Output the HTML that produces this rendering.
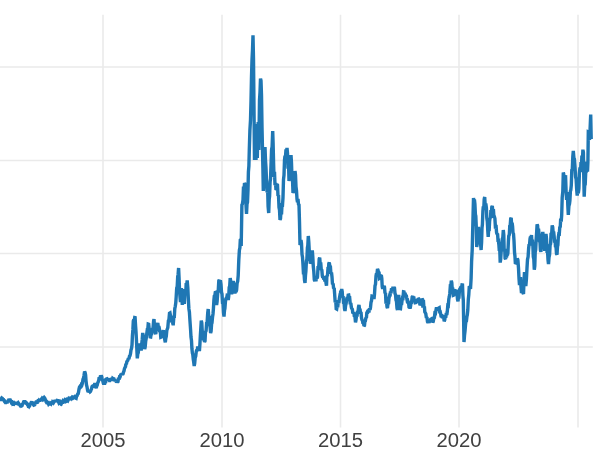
<!DOCTYPE html>
<html><head><meta charset="utf-8">
<style>
html,body{margin:0;padding:0;background:#fff;}
body{width:600px;height:450px;overflow:hidden;}
svg{display:block;position:absolute;left:0;top:0;}
.lbl{filter:grayscale(1);}
text{font-family:"Liberation Sans", sans-serif;font-size:19.4px;fill:#404040;text-anchor:middle;}
</style></head>
<body>
<svg width="600" height="450" viewBox="0 0 600 450">
<g stroke="#eaeaea" stroke-width="1.6" fill="none">
<line x1="103" y1="14.7" x2="103" y2="427.6"/><line x1="222" y1="14.7" x2="222" y2="427.6"/><line x1="340.5" y1="14.7" x2="340.5" y2="427.6"/><line x1="459" y1="14.7" x2="459" y2="427.6"/><line x1="578" y1="14.7" x2="578" y2="427.6"/><line x1="0" y1="67" x2="592.8" y2="67"/><line x1="0" y1="160.5" x2="592.8" y2="160.5"/><line x1="0" y1="253.5" x2="592.8" y2="253.5"/><line x1="0" y1="347" x2="592.8" y2="347"/>
</g>
<path d="M0.0,399.5 L0.5,399.5 L0.9,397.6 L1.4,398.8 L1.8,398.0 L2.4,398.4 L2.9,399.4 L3.5,399.5 L4.0,400.5 L4.5,401.4 L5.0,401.3 L5.5,402.5 L6.0,402.5 L6.5,401.7 L7.0,403.3 L7.5,400.8 L8.0,401.6 L8.5,400.4 L9.0,400.6 L9.5,400.0 L10.0,400.0 L10.4,402.0 L10.9,401.4 L11.4,402.6 L11.9,402.3 L12.4,403.5 L12.8,403.1 L13.3,404.2 L13.8,404.3 L14.3,403.5 L14.8,404.3 L15.2,402.3 L15.7,403.9 L16.2,403.2 L16.7,403.3 L17.2,403.6 L17.7,403.1 L18.2,404.4 L18.7,403.5 L19.2,404.2 L19.7,404.9 L20.1,404.2 L20.6,405.4 L21.1,405.1 L21.5,406.0 L22.0,405.8 L22.6,404.0 L23.1,403.6 L23.6,401.9 L24.2,400.8 L24.7,401.9 L25.3,401.8 L25.8,402.5 L26.3,403.3 L26.8,403.3 L27.3,404.4 L27.7,404.4 L28.2,405.9 L28.7,405.7 L29.2,406.5 L29.7,405.8 L30.2,404.0 L30.7,403.8 L31.2,402.4 L31.7,401.7 L32.2,402.8 L32.7,402.9 L33.2,404.0 L33.7,403.7 L34.2,405.0 L34.7,404.8 L35.2,402.7 L35.7,403.8 L36.2,402.0 L36.7,402.0 L37.2,402.1 L37.7,401.2 L38.2,401.5 L38.8,400.5 L39.3,401.2 L39.8,400.1 L40.3,400.1 L40.8,399.6 L41.3,399.1 L41.8,399.5 L42.3,398.4 L42.7,398.8 L43.2,397.4 L43.7,398.2 L44.2,397.5 L44.7,398.1 L45.1,399.8 L45.6,399.9 L46.0,401.7 L46.5,402.5 L47.0,402.3 L47.5,403.9 L48.0,402.7 L48.5,403.9 L49.0,403.3 L49.5,404.0 L50.0,404.0 L50.5,403.3 L51.0,403.8 L51.5,402.6 L52.0,403.5 L52.5,402.1 L53.0,402.6 L53.5,401.3 L54.0,402.0 L54.5,401.2 L55.0,401.2 L55.5,401.8 L56.0,400.3 L56.5,401.5 L57.0,400.5 L57.5,400.6 L58.0,401.4 L58.5,401.2 L59.0,402.8 L59.6,402.2 L60.1,403.4 L60.6,403.8 L61.1,402.6 L61.6,403.2 L62.2,401.9 L62.7,402.0 L63.2,400.4 L63.8,400.6 L64.3,401.1 L64.8,400.3 L65.3,401.1 L65.9,400.4 L66.4,401.4 L66.9,401.2 L67.4,400.0 L67.9,400.5 L68.5,399.2 L69.0,399.9 L69.5,398.2 L70.0,398.1 L70.5,398.4 L70.9,397.3 L71.4,398.2 L71.9,397.5 L72.3,398.0 L72.8,397.4 L73.3,397.9 L73.8,397.5 L74.2,397.1 L74.7,398.2 L75.1,397.5 L75.6,398.1 L76.1,398.3 L76.6,395.9 L77.1,395.7 L77.6,394.3 L78.1,393.8 L78.5,392.3 L79.0,389.2 L79.4,387.5 L79.9,387.6 L80.4,386.2 L80.9,386.4 L81.4,384.7 L81.9,385.0 L82.4,383.3 L83.0,379.3 L83.5,378.0 L84.0,375.6 L84.6,371.5 L85.1,372.5 L85.6,375.0 L86.0,380.6 L86.5,385.0 L87.0,386.8 L87.6,390.4 L88.1,392.0 L88.6,391.0 L89.1,392.3 L89.6,390.8 L90.1,391.7 L90.6,391.2 L91.1,389.8 L91.5,389.0 L92.0,386.7 L92.5,386.2 L93.0,386.2 L93.5,384.8 L94.0,386.0 L94.5,384.4 L95.0,384.4 L95.6,386.8 L96.2,388.1 L96.8,385.5 L97.2,385.2 L97.8,382.6 L98.2,382.0 L98.8,380.0 L99.2,377.2 L99.8,378.9 L100.2,377.1 L100.8,377.2 L101.2,375.5 L101.8,377.0 L102.2,380.0 L102.8,380.5 L103.2,382.9 L103.8,384.4 L104.3,383.0 L104.8,383.1 L105.3,380.7 L105.9,381.0 L106.4,379.0 L106.9,378.8 L107.4,379.7 L107.9,378.5 L108.5,380.0 L109.0,379.2 L109.5,380.6 L110.0,380.6 L110.5,380.0 L111.0,380.6 L111.5,379.0 L112.1,379.8 L112.6,378.4 L113.1,378.8 L113.6,379.5 L114.1,379.3 L114.6,380.5 L115.1,379.6 L115.5,381.5 L116.0,380.1 L116.5,382.6 L117.0,381.3 L117.5,382.5 L118.0,381.6 L118.5,377.7 L119.0,379.7 L119.6,376.8 L120.1,376.8 L120.6,375.0 L121.1,373.9 L121.6,375.1 L122.1,373.3 L122.6,374.6 L123.1,373.8 L123.6,371.9 L124.0,370.9 L124.5,368.5 L125.0,367.5 L125.5,366.6 L125.9,363.7 L126.4,364.2 L126.8,361.7 L127.3,361.0 L127.8,360.4 L128.4,358.3 L128.9,359.3 L129.5,356.2 L130.0,355.7 L130.5,353.7 L131.0,350.0 L131.5,348.6 L132.0,345.0 L132.4,336.3 L132.9,329.4 L133.3,321.0 L133.8,319.6 L134.2,320.5 L134.7,317.6 L135.1,317.7 L135.6,326.1 L136.0,331.7 L136.4,339.1 L136.9,350.7 L137.3,358.3 L137.8,353.9 L138.3,352.6 L138.8,346.1 L139.3,343.7 L139.8,345.4 L140.3,344.8 L140.8,349.0 L141.3,349.0 L141.8,343.1 L142.2,339.4 L142.7,333.0 L143.2,335.4 L143.7,342.2 L144.2,343.7 L144.7,349.0 L145.2,346.8 L145.7,341.1 L146.2,338.5 L146.7,334.3 L147.2,330.5 L147.7,330.7 L148.2,324.1 L148.7,324.3 L149.2,329.2 L149.7,329.5 L150.2,336.9 L150.7,337.0 L151.2,333.5 L151.7,333.5 L152.2,329.5 L152.7,329.0 L153.1,327.3 L153.6,321.1 L154.0,319.0 L154.4,324.9 L154.9,326.7 L155.3,333.0 L155.8,334.1 L156.3,328.4 L156.8,328.6 L157.3,325.0 L157.8,322.9 L158.3,327.2 L158.8,326.0 L159.3,328.3 L159.8,331.9 L160.3,331.5 L160.8,337.2 L161.3,337.0 L161.8,333.6 L162.3,335.5 L162.8,331.6 L163.3,330.3 L163.8,334.9 L164.3,335.3 L164.8,340.0 L165.3,342.3 L165.8,338.3 L166.3,336.2 L166.8,330.5 L167.3,329.0 L167.8,327.6 L168.4,320.7 L168.9,320.2 L169.5,313.3 L170.0,313.0 L170.5,315.8 L171.0,316.4 L171.5,320.7 L172.0,322.3 L172.4,321.8 L172.9,323.7 L173.3,323.7 L173.8,317.5 L174.3,317.1 L174.8,308.5 L175.3,306.3 L175.8,302.6 L176.2,296.5 L176.7,288.1 L177.2,286.5 L177.7,276.7 L178.1,274.5 L178.6,268.0 L179.1,278.8 L179.6,292.0 L180.1,298.0 L180.5,302.0 L180.9,293.4 L181.4,288.0 L181.9,297.8 L182.3,305.0 L182.8,294.7 L183.3,289.0 L183.8,298.3 L184.3,304.0 L184.8,294.5 L185.3,290.0 L185.8,292.3 L186.2,283.1 L186.7,285.1 L187.2,280.5 L187.8,287.7 L188.4,300.0 L188.9,308.9 L189.4,312.0 L189.9,320.0 L190.6,330.0 L191.0,337.0 L191.5,340.6 L191.9,348.5 L192.4,353.1 L192.8,354.5 L193.3,359.5 L193.7,362.0 L194.2,366.0 L194.7,363.3 L195.2,357.7 L195.7,356.4 L196.2,352.0 L196.7,349.5 L197.1,351.2 L197.6,347.6 L198.0,347.0 L198.5,349.4 L198.9,348.4 L199.4,351.0 L199.9,344.3 L200.4,334.8 L200.8,328.6 L201.3,320.5 L201.8,323.0 L202.2,330.7 L202.7,332.3 L203.1,338.5 L203.6,339.9 L204.1,338.8 L204.5,342.1 L205.0,341.0 L205.5,332.0 L206.1,330.8 L206.6,323.1 L207.1,322.9 L207.7,313.2 L208.2,309.0 L208.7,315.8 L209.2,316.5 L209.6,324.0 L210.1,327.0 L210.6,333.0 L211.1,331.1 L211.6,323.9 L212.0,322.8 L212.5,317.3 L213.0,314.0 L213.4,308.9 L213.9,300.2 L214.3,296.0 L214.9,295.5 L215.4,291.5 L216.0,292.0 L216.6,305.0 L217.1,301.6 L217.7,293.4 L218.2,291.4 L218.8,280.8 L219.3,280.0 L219.9,282.7 L220.4,280.2 L221.0,284.4 L221.5,292.2 L222.0,294.1 L222.5,302.9 L223.0,303.4 L223.5,312.5 L224.0,316.5 L224.5,310.4 L224.9,308.6 L225.4,302.0 L226.0,297.8 L226.5,298.9 L227.1,295.6 L227.6,295.9 L228.2,300.0 L228.7,296.7 L229.2,287.4 L229.7,286.2 L230.2,278.0 L230.7,281.1 L231.1,290.0 L231.6,294.4 L232.1,288.8 L232.7,287.1 L233.2,281.0 L233.8,284.0 L234.3,291.2 L234.9,293.3 L235.5,291.4 L236.0,292.1 L236.6,290.0 L237.1,283.3 L237.7,281.1 L238.2,275.6 L238.8,259.9 L239.4,250.0 L239.9,247.8 L240.3,240.0 L240.8,239.6 L241.2,246.0 L241.9,205.0 L242.4,204.0 L243.0,200.0 L243.5,186.6 L244.0,192.0 L244.5,183.0 L245.0,184.2 L245.5,190.0 L246.0,205.2 L246.5,214.0 L247.0,204.2 L247.5,202.2 L248.0,190.0 L248.4,172.1 L248.9,165.8 L249.3,150.0 L249.9,130.3 L250.5,120.0 L251.0,101.5 L251.5,76.8 L252.0,60.0 L252.5,50.2 L253.0,35.3 L253.5,59.3 L254.0,110.0 L254.5,160.0 L254.9,145.3 L255.3,125.0 L256.0,160.0 L256.6,124.0 L257.3,158.0 L257.8,130.3 L258.2,122.0 L258.8,150.0 L259.5,100.0 L260.0,92.4 L260.5,78.5 L261.0,80.8 L261.5,95.0 L262.0,127.1 L262.5,150.0 L262.9,168.2 L263.3,191.0 L263.9,180.9 L264.4,159.6 L265.0,147.0 L265.5,160.3 L266.0,168.0 L266.5,180.0 L267.1,192.5 L267.6,187.3 L268.1,206.4 L268.7,213.0 L269.2,199.3 L269.6,196.1 L270.1,181.7 L270.5,179.1 L271.0,165.0 L271.6,149.3 L272.1,146.9 L272.7,131.0 L273.1,142.7 L273.6,163.9 L274.0,177.0 L274.5,171.8 L275.0,185.2 L275.5,182.8 L276.0,190.0 L276.5,189.4 L277.0,184.6 L277.5,185.0 L278.0,196.0 L278.5,195.1 L279.0,207.2 L279.5,209.9 L280.0,220.0 L280.5,218.6 L281.0,211.2 L281.5,214.3 L282.0,204.9 L282.5,205.0 L283.0,197.6 L283.5,179.5 L284.0,175.1 L284.5,160.0 L285.0,155.6 L285.5,156.9 L286.0,149.4 L286.5,153.1 L287.0,148.0 L287.5,153.2 L288.0,168.7 L288.5,162.2 L289.0,181.0 L289.5,177.3 L290.0,163.7 L290.5,162.7 L291.0,155.0 L291.5,163.0 L292.0,178.7 L292.5,179.1 L293.0,193.0 L293.5,191.6 L294.0,180.1 L294.5,186.5 L295.0,171.0 L295.5,174.8 L296.0,186.7 L296.5,190.6 L297.0,199.0 L297.5,202.2 L298.0,198.9 L298.5,204.4 L299.0,205.0 L299.5,222.1 L300.0,245.0 L300.5,244.1 L301.0,240.0 L301.5,243.3 L302.0,254.4 L302.5,257.1 L303.0,265.0 L303.5,274.3 L304.0,273.0 L304.5,280.0 L305.0,283.0 L305.5,275.0 L305.9,271.0 L306.4,261.3 L306.9,259.1 L307.4,247.7 L307.8,245.5 L308.3,236.0 L308.8,242.2 L309.3,251.7 L309.8,255.0 L310.3,263.7 L310.8,262.2 L311.3,256.3 L311.8,256.0 L312.3,250.3 L312.8,256.8 L313.3,266.6 L313.8,271.4 L314.3,279.7 L314.8,281.2 L315.4,278.3 L315.9,281.3 L316.5,277.5 L317.0,278.3 L317.5,277.0 L318.1,266.1 L318.6,268.9 L319.2,258.9 L319.7,257.7 L320.2,264.1 L320.7,262.3 L321.3,270.1 L321.8,269.5 L322.3,275.7 L322.8,277.8 L323.4,276.0 L323.9,279.7 L324.4,277.6 L324.9,281.6 L325.5,276.9 L326.0,283.0 L326.5,285.6 L326.9,275.2 L327.4,276.3 L327.9,269.7 L328.4,270.0 L328.8,263.7 L329.3,262.5 L329.8,266.1 L330.4,266.5 L330.9,273.7 L331.5,272.4 L332.0,277.0 L332.5,284.3 L333.1,283.4 L333.6,288.5 L334.2,287.8 L334.7,295.0 L335.2,302.5 L335.7,300.0 L336.2,308.7 L336.7,309.0 L337.2,305.6 L337.7,307.3 L338.3,300.8 L338.8,303.0 L339.3,299.0 L339.8,296.1 L340.3,296.5 L340.7,290.5 L341.2,293.2 L341.7,289.0 L342.2,291.5 L342.6,297.4 L343.1,296.1 L343.6,303.7 L344.1,303.2 L344.5,308.7 L345.0,311.0 L345.6,305.6 L346.1,303.6 L346.7,299.0 L347.2,297.2 L347.7,298.9 L348.2,295.1 L348.7,295.0 L349.2,298.1 L349.7,298.0 L350.3,304.4 L350.8,303.0 L351.3,307.0 L351.8,309.2 L352.3,308.4 L352.8,313.4 L353.3,313.0 L353.8,312.2 L354.4,316.9 L354.9,316.0 L355.5,322.4 L356.0,320.0 L356.5,315.6 L357.0,316.6 L357.5,311.0 L358.0,312.3 L358.5,307.0 L359.0,305.0 L359.5,309.3 L360.0,308.8 L360.5,313.5 L361.0,311.8 L361.5,318.0 L362.0,320.0 L362.5,320.6 L363.0,323.6 L363.5,323.0 L364.0,326.0 L364.5,325.5 L364.9,321.3 L365.4,320.9 L365.9,317.4 L366.4,318.0 L366.8,312.8 L367.3,312.0 L367.8,312.1 L368.4,309.7 L368.9,312.5 L369.5,308.2 L370.0,310.0 L370.5,307.5 L371.0,302.4 L371.5,300.8 L372.0,296.0 L372.5,296.1 L373.0,298.0 L373.5,295.8 L374.0,299.0 L374.5,294.2 L375.0,285.8 L375.5,284.2 L376.0,276.0 L376.5,273.2 L377.0,273.7 L377.5,269.0 L378.0,270.0 L378.5,272.6 L379.0,271.6 L379.5,278.3 L380.0,278.0 L380.4,274.5 L380.9,278.5 L381.3,275.0 L381.8,278.3 L382.2,286.5 L382.7,289.0 L383.1,285.9 L383.6,288.8 L384.0,286.0 L384.5,286.9 L385.0,293.4 L385.5,292.9 L386.0,303.6 L386.5,300.7 L387.0,306.8 L387.5,308.0 L388.0,303.1 L388.5,304.2 L389.0,298.0 L389.5,296.0 L390.0,296.4 L390.5,291.3 L391.0,293.3 L391.5,288.4 L392.0,289.0 L392.5,290.3 L393.0,286.8 L393.5,289.4 L394.0,287.5 L394.5,288.0 L395.0,293.5 L395.5,294.6 L396.0,300.2 L396.5,301.5 L397.0,308.1 L397.5,310.0 L398.1,300.6 L398.7,295.0 L399.1,300.2 L399.6,302.9 L400.0,308.7 L400.5,308.8 L401.0,304.1 L401.5,305.0 L402.0,300.7 L402.5,297.8 L403.0,298.0 L403.5,291.9 L404.0,292.0 L404.5,295.1 L405.1,292.6 L405.6,297.2 L406.2,294.7 L406.7,298.0 L407.2,300.7 L407.6,300.5 L408.1,303.6 L408.6,302.9 L409.1,308.0 L409.5,305.1 L410.0,308.7 L410.5,306.7 L411.1,302.3 L411.6,302.3 L412.2,296.9 L412.7,296.0 L413.2,302.4 L413.7,296.5 L414.3,300.5 L414.8,299.3 L415.3,302.7 L415.8,302.6 L416.3,300.1 L416.8,301.9 L417.2,299.2 L417.7,300.9 L418.2,298.2 L418.7,298.7 L419.1,302.8 L419.6,302.4 L420.0,305.3 L420.5,304.3 L421.0,300.1 L421.5,302.1 L422.0,298.7 L422.5,299.4 L422.9,307.7 L423.4,299.8 L423.9,307.6 L424.4,306.5 L424.8,311.9 L425.3,312.7 L425.8,313.8 L426.4,318.1 L426.9,316.9 L427.5,321.7 L428.0,322.7 L428.5,321.3 L429.1,322.9 L429.6,319.9 L430.2,321.7 L430.7,319.3 L431.2,319.0 L431.7,322.1 L432.3,319.7 L432.8,322.5 L433.3,321.3 L433.8,318.3 L434.4,317.7 L434.9,313.1 L435.5,313.3 L436.0,310.0 L436.5,307.3 L437.1,309.9 L437.6,308.1 L438.2,310.7 L438.7,308.0 L439.2,307.7 L439.7,311.8 L440.2,311.8 L440.7,314.0 L441.2,317.3 L441.7,314.3 L442.2,317.9 L442.7,315.4 L443.2,318.4 L443.7,317.4 L444.2,321.3 L444.7,320.0 L445.2,316.8 L445.7,317.7 L446.3,313.0 L446.8,314.9 L447.3,311.3 L447.8,305.5 L448.3,305.7 L448.8,299.2 L449.3,296.7 L449.8,293.4 L450.3,286.5 L450.8,286.7 L451.3,280.7 L451.8,282.8 L452.3,289.9 L452.8,289.7 L453.3,295.3 L453.8,295.1 L454.4,291.0 L454.9,293.7 L455.5,290.4 L456.0,290.0 L456.5,293.7 L457.0,293.2 L457.5,299.2 L458.0,301.3 L458.5,296.5 L459.0,296.6 L459.5,289.5 L460.0,288.7 L460.5,289.4 L461.0,286.2 L461.5,287.9 L462.0,284.9 L462.5,285.0 L462.9,295.3 L463.3,300.0 L464.0,342.0 L464.5,335.6 L465.0,331.1 L465.5,325.0 L465.9,321.4 L466.4,321.0 L466.9,316.7 L467.3,315.0 L467.8,310.0 L468.3,299.6 L468.8,294.6 L469.3,286.0 L469.9,286.7 L470.5,289.0 L471.1,278.5 L471.6,261.2 L472.2,250.0 L472.6,234.1 L473.1,213.4 L473.5,198.0 L474.0,203.7 L474.4,199.5 L474.9,204.0 L475.4,214.3 L475.8,215.9 L476.3,227.0 L476.7,247.0 L477.3,243.5 L477.8,231.8 L478.4,227.0 L478.9,233.6 L479.5,235.5 L480.0,242.3 L480.6,243.9 L481.1,250.0 L481.6,242.2 L482.0,227.8 L482.4,224.5 L482.9,211.0 L483.3,206.5 L483.8,207.9 L484.2,199.2 L484.7,197.0 L485.3,207.4 L485.8,203.4 L486.4,208.0 L486.8,218.2 L487.3,221.4 L487.8,231.2 L488.2,237.0 L488.6,230.5 L489.1,231.0 L489.6,221.4 L490.0,218.0 L490.5,218.4 L490.9,210.2 L491.4,214.2 L491.8,206.9 L492.3,206.0 L492.8,211.3 L493.4,209.1 L493.9,216.6 L494.4,216.7 L494.9,218.6 L495.5,228.7 L496.0,224.9 L496.6,232.8 L497.1,234.0 L497.6,234.4 L498.0,240.2 L498.4,240.2 L498.9,245.0 L499.3,251.0 L499.8,250.3 L500.2,262.6 L500.7,259.0 L501.2,250.8 L501.7,248.2 L502.3,238.9 L502.8,237.5 L503.3,230.0 L503.8,234.9 L504.2,251.3 L504.7,248.7 L505.1,258.4 L505.6,259.0 L506.0,254.9 L506.5,257.6 L507.0,253.4 L507.4,255.5 L507.9,252.7 L508.4,241.2 L508.8,235.8 L509.3,234.8 L509.8,225.0 L510.2,225.4 L510.7,218.8 L511.2,217.8 L511.6,224.4 L512.1,222.7 L512.6,226.3 L513.0,232.8 L513.5,233.9 L514.0,240.6 L514.5,252.1 L514.9,255.7 L515.4,264.0 L515.9,263.3 L516.3,258.2 L516.8,262.2 L517.3,258.4 L517.9,260.2 L518.5,268.0 L519.0,278.5 L519.5,285.0 L520.0,278.8 L520.5,277.0 L521.0,287.1 L521.5,293.0 L522.0,285.5 L522.5,282.0 L523.0,292.9 L523.5,294.0 L524.0,280.9 L524.5,272.0 L524.9,279.1 L525.4,279.3 L525.8,286.0 L526.4,279.5 L527.0,268.0 L527.5,259.6 L528.1,256.8 L528.6,249.0 L529.1,244.3 L529.5,245.4 L530.0,238.9 L530.5,236.7 L531.0,239.3 L531.5,235.0 L531.9,242.2 L532.4,239.5 L532.9,246.3 L533.3,256.8 L533.8,259.0 L534.3,269.7 L534.8,265.9 L535.2,252.2 L535.7,249.5 L536.2,238.8 L536.6,233.1 L537.1,224.4 L537.6,225.7 L538.0,231.7 L538.5,228.6 L539.0,233.9 L539.5,241.2 L540.0,242.0 L540.4,250.0 L540.9,251.8 L541.4,240.9 L541.8,244.4 L542.3,234.9 L542.8,232.0 L543.3,238.2 L543.8,235.3 L544.2,246.8 L544.7,250.8 L545.1,238.6 L545.6,241.2 L546.0,233.9 L546.5,238.7 L547.0,250.5 L547.5,250.3 L548.0,259.8 L548.5,264.0 L549.0,257.5 L549.6,254.6 L550.1,245.0 L550.6,243.8 L551.1,232.9 L551.7,233.4 L552.2,225.4 L552.7,227.1 L553.2,233.5 L553.6,231.5 L554.1,235.8 L554.6,242.5 L555.1,239.6 L555.5,247.1 L556.0,246.6 L556.5,253.8 L557.0,254.6 L557.5,246.5 L557.9,245.0 L558.3,237.1 L558.8,233.9 L559.3,234.0 L559.8,226.7 L560.2,227.7 L560.7,218.7 L561.2,221.7 L561.7,215.0 L562.2,197.6 L562.8,191.5 L563.3,172.5 L563.7,174.0 L564.2,183.2 L564.6,186.0 L565.1,177.1 L565.6,177.0 L566.1,191.6 L566.6,200.0 L567.0,193.5 L567.4,192.0 L567.8,205.2 L568.3,215.0 L568.9,206.0 L569.5,204.0 L569.9,200.5 L570.4,191.1 L570.8,190.0 L571.3,185.2 L571.8,170.0 L572.3,169.3 L572.8,156.9 L573.3,150.8 L573.9,157.9 L574.4,158.9 L575.0,166.7 L575.6,177.0 L576.1,179.0 L576.7,190.0 L577.2,195.6 L577.8,190.9 L578.3,193.3 L578.9,188.5 L579.4,172.9 L580.0,167.5 L580.5,172.1 L581.0,162.1 L581.5,165.6 L581.9,155.6 L582.4,161.0 L582.9,149.7 L583.4,152.5 L583.8,178.7 L584.2,196.7 L584.7,185.7 L585.2,184.4 L585.7,172.9 L586.2,171.9 L586.7,161.7 L587.1,163.9 L587.5,171.7 L587.9,162.4 L588.3,132.0 L588.9,132.3 L589.5,140.0 L590.1,128.9 L590.7,114.5 L591.2,139.0" fill="none" stroke="#1f77b4" stroke-width="3.4" stroke-linejoin="miter" stroke-miterlimit="2" stroke-linecap="butt"/>
</svg>
<svg class="lbl" width="600" height="450" viewBox="0 0 600 450">
<text x="103" y="446.7" textLength="45" lengthAdjust="spacingAndGlyphs">2005</text><text x="222" y="446.7" textLength="45" lengthAdjust="spacingAndGlyphs">2010</text><text x="340.5" y="446.7" textLength="45" lengthAdjust="spacingAndGlyphs">2015</text><text x="459" y="446.7" textLength="45" lengthAdjust="spacingAndGlyphs">2020</text>
</svg>
</body></html>
